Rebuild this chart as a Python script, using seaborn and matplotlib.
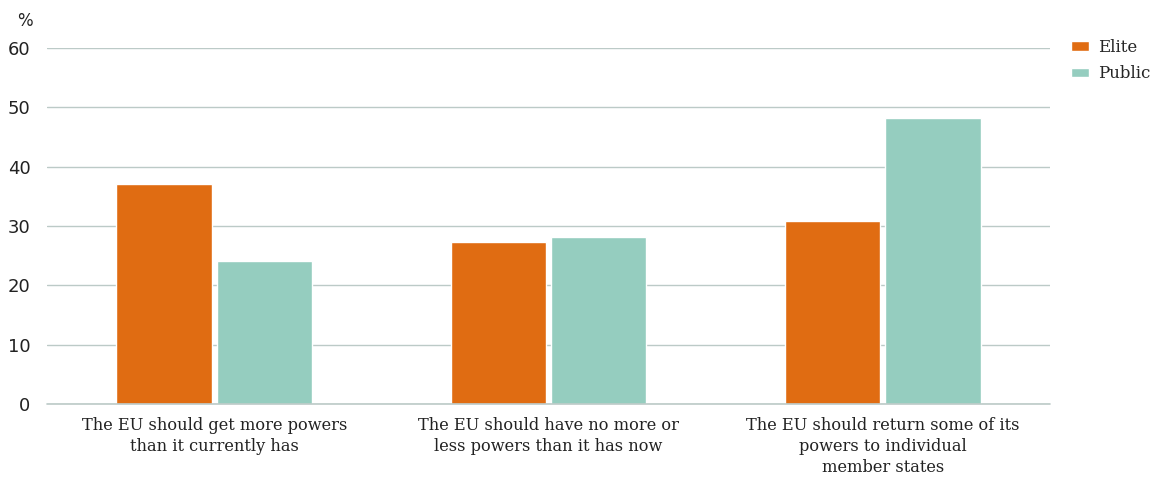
import numpy as np
import pandas as pd
import matplotlib
matplotlib.use("Agg")
import matplotlib.pyplot as plt
import seaborn as sns

# Data
categories = ["The EU should get more powers\nthan it currently has",
              "The EU should have no more or\nless powers than it has now",
              "The EU should return some of its\npowers to individual\nmember states"]
elite = [37.1, 27.4, 30.8]
public = [24.1, 28.2, 48.2]
groups = ["Elite", "Public"]
colors = ["#E06C12", "#95CDBF"]
y_ticks = [0, 10, 20, 30, 40, 50, 60]

df = pd.DataFrame({
    "category": categories * 2,
    "group": ["Elite"] * 3 + ["Public"] * 3,
    "value": elite + public,
})

sns.set_style("white")
plt.rcParams['font.family'] = ['DejaVu Serif']

fig = plt.figure(figsize=(11.53, 4.8), dpi=100)
ax = fig.add_axes([0.0408, 0.158, 0.8699, 0.742])

sns.barplot(data=df, x="category", y="value", hue="group", order=categories,
            hue_order=groups, palette=colors, width=0.6, gap=0.05,
            saturation=1, ax=ax, legend=True)

ax.set_ylim(0, 60)
ax.set_xlim(-0.5, 2.5)
ax.set_yticks(y_ticks)
ax.set_yticklabels([str(t) for t in y_ticks], fontfamily="DejaVu Sans",
                   fontsize=13, color="#222222")
ax.tick_params(axis="y", length=0, pad=12)
ax.tick_params(axis="x", length=0, pad=9, labelsize=11.7, labelcolor="#222222")
for lbl in ax.get_xticklabels():
    lbl.set_linespacing(1.32)
ax.set_xlabel("")
ax.set_ylabel("")
for s in ax.spines.values():
    s.set_visible(False)
ax.set_axisbelow(True)
ax.yaxis.grid(True, color="#BCCAC7", linewidth=1)
ax.axhline(0, color="#BCCAC7", linewidth=1.2, zorder=3, clip_on=False)
ax.text(-0.022, 1.05, "%", transform=ax.transAxes, fontsize=12,
        fontfamily="DejaVu Sans", color="#222222", ha="center", va="bottom")

leg = ax.legend(loc="upper left", bbox_to_anchor=(1.021, 1.025), frameon=False,
                fontsize=12, handlelength=1.1, handleheight=0.5,
                handletextpad=0.5, labelspacing=0.55, borderpad=0,
                borderaxespad=0)

fig.savefig("out.png", dpi=100)
